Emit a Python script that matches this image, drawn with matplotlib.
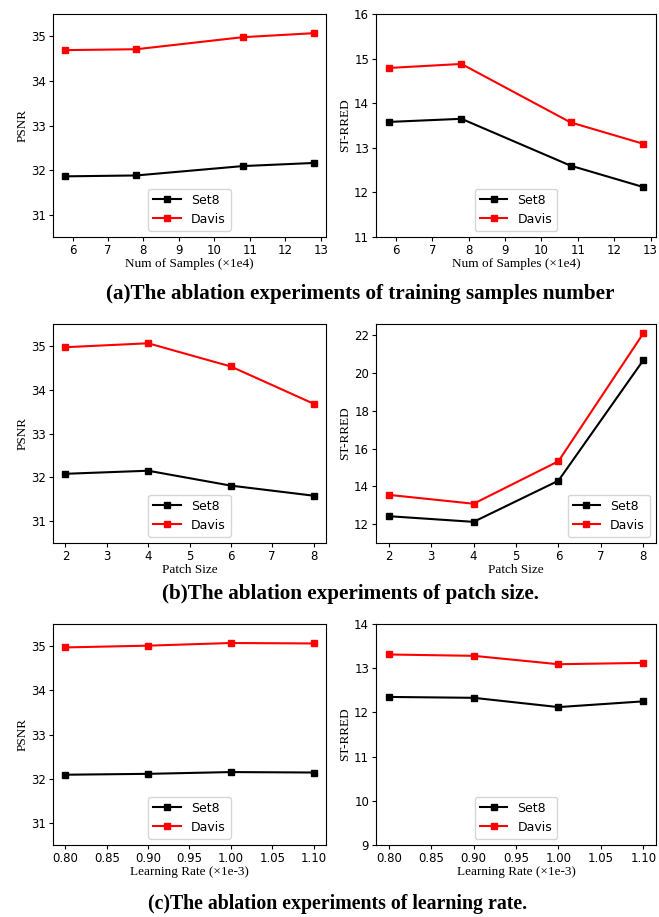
import matplotlib
matplotlib.use('Agg')
from matplotlib import pyplot as plt

# training samples (x1e4)
samples = [5.8, 7.8, 10.8, 12.8]
samples_psnr_set8 = [31.86, 31.88, 32.09, 32.16]
samples_psnr_davis = [34.69, 34.71, 34.98, 35.07]
samples_rred_set8 = [13.58, 13.65, 12.60, 12.12]
samples_rred_davis = [14.79, 14.88, 13.57, 13.09]
samples_ticks = [6, 7, 8, 9, 10, 11, 12, 13]

# patch size
patch = [2, 4, 6, 8]
patch_psnr_set8 = [32.08, 32.15, 31.81, 31.58]
patch_psnr_davis = [34.97, 35.06, 34.53, 33.68]
patch_rred_set8 = [12.42, 12.12, 14.30, 20.68]
patch_rred_davis = [13.55, 13.08, 15.33, 22.10]
patch_ticks = [2, 3, 4, 5, 6, 7, 8]

# learning rate (x1e-3)
lr = [0.8, 0.9, 1.0, 1.1]
lr_psnr_set8 = [32.09, 32.11, 32.15, 32.14]
lr_psnr_davis = [34.97, 35.01, 35.07, 35.06]
lr_rred_set8 = [12.35, 12.33, 12.12, 12.25]
lr_rred_davis = [13.31, 13.28, 13.09, 13.12]
lr_ticks = ['0.80', '0.85', '0.90', '0.95', '1.00', '1.05', '1.10']

captions = ['(a)The ablation experiments of training samples number',
            '(b)The ablation experiments of patch size.',
            '(c)The ablation experiments of learning rate.']

W, H = 659, 917
fig = plt.figure(figsize=(W / 100, H / 100), dpi=100)

serif = 'Liberation Serif'


def add_ax(x0, y0, x1, y1):
    return fig.add_axes([x0 / W, 1 - y1 / H, (x1 - x0) / W, (y1 - y0) / H])


def draw(ax, x, s8, dv, xlabel, ylabel, ylim, xticks, loc='lower center'):
    ax.plot(x, s8, color='black', marker='s', markersize=4.5, linewidth=1.5, label='Set8')
    ax.plot(x, dv, color='red', marker='s', markersize=4.5, linewidth=1.5, label='Davis')
    ax.set_ylim(*ylim)
    ax.set_xticks([float(t) for t in xticks])
    ax.set_xticklabels([str(t) for t in xticks])
    ax.set_xlabel(xlabel, family=serif, fontsize=9.5, labelpad=1)
    ax.set_ylabel(ylabel, family=serif, fontsize=9.5, labelpad=2)
    ax.tick_params(labelsize=8.5, length=3, pad=2)
    ax.legend(loc=loc, fontsize=9, handlelength=2.2, borderaxespad=0.5)


ax = add_ax(53, 14, 326, 237)
draw(ax, samples, samples_psnr_set8, samples_psnr_davis, 'Num of Samples (×1e4)', 'PSNR',
     (30.5, 35.5), samples_ticks)
ax = add_ax(376, 14, 656, 237)
draw(ax, samples, samples_rred_set8, samples_rred_davis, 'Num of Samples (×1e4)', 'ST-RRED',
     (11, 16), samples_ticks)

ax = add_ax(53, 324, 326, 543)
draw(ax, patch, patch_psnr_set8, patch_psnr_davis, 'Patch Size', 'PSNR', (30.5, 35.5), patch_ticks)
ax = add_ax(376, 324, 656, 543)
draw(ax, patch, patch_rred_set8, patch_rred_davis, 'Patch Size', 'ST-RRED', (11, 22.6), patch_ticks,
     loc='lower right')

ax = add_ax(53, 624, 326, 845)
draw(ax, lr, lr_psnr_set8, lr_psnr_davis, 'Learning Rate (×1e-3)', 'PSNR', (30.5, 35.5), lr_ticks)
ax = add_ax(376, 624, 656, 845)
draw(ax, lr, lr_rred_set8, lr_rred_davis, 'Learning Rate (×1e-3)', 'ST-RRED', (9, 14), lr_ticks)

cap_pos = [(360, 294), (350, 594), (338, 904)]
cap_size = [15.2, 15.2, 14.3]
for (cx, cy), txt, fs in zip(cap_pos, captions, cap_size):
    fig.text(cx / W, 1 - cy / H, txt, family=serif, fontweight='bold', fontsize=fs,
             ha='center', va='center')

fig.savefig('out.png', dpi=100)
